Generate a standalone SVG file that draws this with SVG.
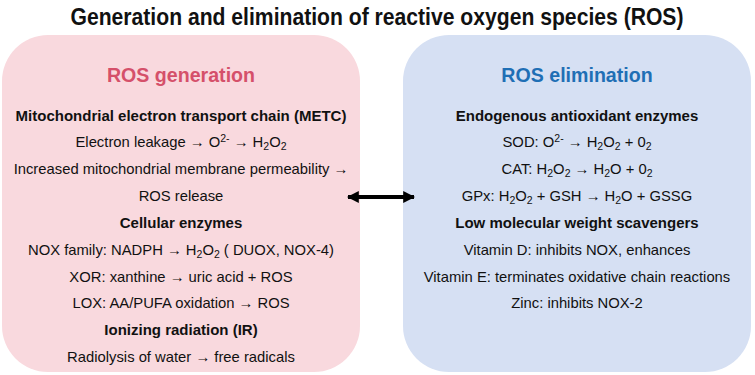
<svg xmlns="http://www.w3.org/2000/svg" width="755" height="375" viewBox="0 0 755 375">
<defs>
<style>
text{font-family:"Liberation Sans",Arial,Helvetica,sans-serif;text-anchor:middle;fill:#111}
.title{font-size:23px;font-weight:bold}
.head{font-size:19.6px;font-weight:bold}
.b{font-size:15px;font-weight:bold}
.t{font-size:14.8px}
.sub{font-size:10.5px;baseline-shift:-3px}
.sup{font-size:10.5px;baseline-shift:5px}
</style>
<marker id="ah" viewBox="0 0 10 10" refX="9" refY="5" markerWidth="3" markerHeight="3" orient="auto-start-reverse" markerUnits="strokeWidth">
<path d="M0,0 L10,5 L0,10 Z" fill="#000"/>
</marker>
</defs>
<rect width="755" height="375" fill="#fff"/>
<text class="title" x="377" y="25" textLength="613" lengthAdjust="spacingAndGlyphs">Generation and elimination of reactive oxygen species (ROS)</text>
<g id="gen">
<rect x="2" y="35" width="358" height="337" rx="46" fill="#f9d9de"/>
<text class="head" x="181" y="82" style="fill:#d5506a">ROS generation</text>
<text class="b" x="181" y="121">Mitochondrial electron transport chain (METC)</text>
<text class="t" x="181" y="147">Electron leakage → O<tspan class="sup">2-</tspan> → H<tspan class="sub">2</tspan>O<tspan class="sub">2</tspan></text>
<text class="t" x="181" y="174">Increased mitochondrial membrane permeability →</text>
<text class="t" x="181" y="201">ROS release</text>
<text class="b" x="181" y="228">Cellular enzymes</text>
<text class="t" x="181" y="255">NOX family: NADPH → H<tspan class="sub">2</tspan>O<tspan class="sub">2</tspan> ( DUOX, NOX-4)</text>
<text class="t" x="181" y="282">XOR: xanthine → uric acid + ROS</text>
<text class="t" x="181" y="308">LOX: AA/PUFA oxidation → ROS</text>
<text class="b" x="181" y="335">Ionizing radiation (IR)</text>
<text class="t" x="181" y="362">Radiolysis of water → free radicals</text>
</g>
<g id="elim">
<rect x="403" y="35" width="348" height="337" rx="46" fill="#d6e0f3"/>
<text class="head" x="577" y="82" style="fill:#1f6fb5">ROS elimination</text>
<text class="b" x="577" y="121">Endogenous antioxidant enzymes</text>
<text class="t" x="577" y="147">SOD: O<tspan class="sup">2-</tspan> → H<tspan class="sub">2</tspan>O<tspan class="sub">2</tspan> + 0<tspan class="sub">2</tspan></text>
<text class="t" x="577" y="174">CAT: H<tspan class="sub">2</tspan>O<tspan class="sub">2</tspan> → H<tspan class="sub">2</tspan>O + 0<tspan class="sub">2</tspan></text>
<text class="t" x="577" y="201">GPx: H<tspan class="sub">2</tspan>O<tspan class="sub">2</tspan> + GSH → H<tspan class="sub">2</tspan>O + GSSG</text>
<text class="b" x="577" y="228">Low molecular weight scavengers</text>
<text class="t" x="577" y="255">Vitamin D: inhibits NOX, enhances</text>
<text class="t" x="577" y="282">Vitamin E: terminates oxidative chain reactions</text>
<text class="t" x="577" y="308">Zinc: inhibits NOX-2</text>
</g>
<g id="connectors">
<line x1="348" y1="197" x2="414" y2="197" stroke="#000" stroke-width="4" marker-start="url(#ah)" marker-end="url(#ah)"/>
</g>
</svg>
